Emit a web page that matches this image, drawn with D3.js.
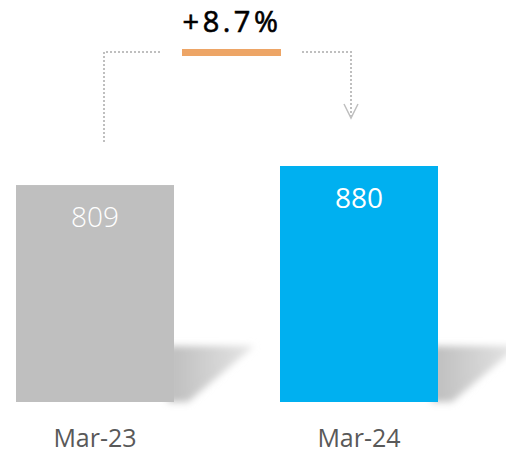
<!DOCTYPE html>
<html>
<head>
<meta charset="utf-8">
<script src="https://cdn.jsdelivr.net/npm/d3@7"></script>
<style>
  body { margin: 0; background: #fff; }
  text { font-family: "Open Sans", "Noto Sans", sans-serif; }
</style>
</head>
<body>
<div id="chart"></div>
<script>
// data
var categories = ["Mar-23", "Mar-24"];
var values = [809, 880];
var barColors = ["#bfbfbf", "#00b0f0"];
var labelColors = ["#ffffff", "#ffffff"];
var changeLabel = "+8.7%";

var width = 506, height = 455;
var baseY = 402;

var svg = d3.select("#chart").append("svg")
    .attr("width", width)
    .attr("height", height);

var defs = svg.append("defs");
defs.append("filter").attr("id", "blur")
    .attr("x", "-20%").attr("y", "-20%").attr("width", "140%").attr("height", "140%")
  .append("feGaussianBlur").attr("stdDeviation", 3.5);
var grad = defs.append("linearGradient").attr("id", "shade")
    .attr("x1", 0).attr("y1", 0).attr("x2", 1).attr("y2", 0);
grad.append("stop").attr("offset", "0%").attr("stop-color", "#bdbdbd");
grad.append("stop").attr("offset", "100%").attr("stop-color", "#e6e6e6");

var x = d3.scaleBand()
    .domain(categories)
    .range([16, 438])
    .paddingInner(0.4015)
    .paddingOuter(0);

var y = d3.scaleLinear()
    .domain([0, 880])
    .range([baseY, 166]);

var data = categories.map(function(c, i) { return {cat: c, val: values[i], color: barColors[i], lc: labelColors[i]}; });

// shadows behind the bars
svg.selectAll(".shadow")
  .data(data)
  .enter()
  .append("polygon")
    .attr("class", "shadow")
    .attr("points", function(d) {
      var r = x(d.cat) + x.bandwidth();
      return [[r - 6, 346], [r + 80, 346], [r + 14, baseY], [r - 6, baseY]].join(" ");
    })
    .attr("fill", "url(#shade)")
    .attr("filter", "url(#blur)");

// bars
svg.selectAll(".bar")
  .data(data)
  .enter()
  .append("rect")
    .attr("x", function(d) { return x(d.cat); })
    .attr("y", function(d) { return y(d.val); })
    .attr("width", x.bandwidth())
    .attr("height", function(d) { return baseY - y(d.val); })
    .attr("fill", function(d) { return d.color; });

// value labels
svg.selectAll(".val")
  .data(data)
  .enter()
  .append("text")
    .attr("x", function(d) { return x(d.cat) + x.bandwidth() / 2; })
    .attr("y", function(d) { return y(d.val) + 42; })
    .attr("text-anchor", "middle")
    .attr("font-size", 28)
    .attr("font-weight", function(d, i) { return i == 0 ? 300 : 400; })
    .attr("fill", function(d) { return d.lc; })
    .text(function(d) { return d.val; });

// category labels
svg.selectAll(".cat")
  .data(data)
  .enter()
  .append("text")
    .attr("x", function(d) { return x(d.cat) + x.bandwidth() / 2; })
    .attr("y", 447)
    .attr("text-anchor", "middle")
    .attr("font-size", 25)
    .attr("fill", "#595959")
    .text(function(d) { return d.cat; });

// growth connector
var lx = x(categories[0]) + 88, rx = x(categories[1]) + 71, ly = 52;
var dotted = { stroke: "#bfbfbf", width: 2, dash: "2,2" };
svg.append("path")
    .attr("d", "M" + lx + ",142 V" + ly + " H160")
    .attr("fill", "none")
    .attr("stroke", dotted.stroke)
    .attr("stroke-width", dotted.width)
    .attr("stroke-dasharray", dotted.dash);
svg.append("path")
    .attr("d", "M302," + ly + " H" + rx + " V116")
    .attr("fill", "none")
    .attr("stroke", dotted.stroke)
    .attr("stroke-width", dotted.width)
    .attr("stroke-dasharray", dotted.dash);
svg.append("path")
    .attr("d", "M" + (rx - 7) + ",104 L" + rx + ",118 L" + (rx + 7) + ",104")
    .attr("fill", "none")
    .attr("stroke", "#bfbfbf")
    .attr("stroke-width", 1.5);

svg.append("rect")
    .attr("x", 182).attr("y", 49)
    .attr("width", 99).attr("height", 7)
    .attr("fill", "#eda566");

svg.append("text")
    .attr("x", 232)
    .attr("y", 32)
    .attr("text-anchor", "middle")
    .attr("font-size", 29)
    .attr("letter-spacing", 3.5)
    .attr("fill", "#000")
    .attr("stroke", "#000")
    .attr("stroke-width", 0.6)
    .text(changeLabel);
</script>
</body>
</html>
